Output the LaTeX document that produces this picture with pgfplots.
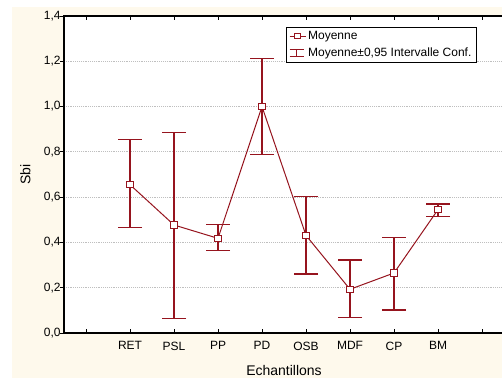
\documentclass[border=0pt]{standalone}
\usepackage{pgfplots}
\pgfplotsset{compat=1.18}
\usepackage{pgfplotstable}
\usepackage{fontspec}
\setmainfont{Liberation Sans}
\definecolor{dred}{RGB}{150,20,30}
\definecolor{cream}{RGB}{254,249,236}
\pgfplotstableread{
x y ep em
1 0.655 0.200 0.190
2 0.477 0.409 0.412
3 0.418 0.060 0.053
4 1.000 0.213 0.210
5 0.431 0.173 0.170
6 0.193 0.129 0.124
7 0.265 0.158 0.163
8 0.545 0.025 0.030
}\datatable
\pgfplotsset{
  meanlegend/.style={legend image code/.code={\draw[mark repeat=2,mark phase=2,##1] plot coordinates {(0pt,0pt) (6pt,0pt) (12pt,0pt)};}},
  cilegend/.style={legend image code/.code={
    \draw[dred, line width=0.8pt] (0pt,2.8pt) -- (11pt,2.8pt);
    \draw[dred, line width=0.8pt] (5.5pt,2.8pt) -- (5.5pt,-2.8pt);
    \draw[dred, line width=0.8pt] (0pt,-2.8pt) -- (11pt,-2.8pt);}},
}
\begin{document}
\begin{tikzpicture}
\useasboundingbox (-48pt,-33.75pt) rectangle (328.5pt,249.75pt);
\fill[white] (-48pt,-33.75pt) rectangle (328.5pt,249.75pt);
\fill[cream] (-39pt,-33.75pt) rectangle (328.5pt,244.5pt);
\begin{axis}[
  scale only axis,
  width=330pt, height=237.75pt,
  xmin=-0.5, xmax=9.5, ymin=0, ymax=1.4,
  axis background/.style={fill=white},
  xtick={0,1,2,3,4,5,6,7,8,9},
  xticklabels={,RET,PSL,PP,PD,OSB,MDF,CP,BM,},
  ytick={0,0.2,0.4,0.6,0.8,1.0,1.2,1.4},
  xtick pos=both, ytick pos=left,
  xtick align=inside, ytick align=outside,
  major tick length=3pt,
  tick style={black, line width=0.6pt},
  axis line style={black, line width=1pt},
  ymajorgrids,
  grid style={densely dotted, gray!50, line width=0.6pt},
  /pgf/number format/assume math mode=true,
  yticklabel style={/pgf/number format/.cd, fixed, fixed zerofill, precision=1, use comma, /tikz/.cd, xshift=4pt},
  xticklabel style={yshift=-3pt},
  tick label style={font=\fontsize{9}{10}\selectfont},
  xlabel={Echantillons}, ylabel={Sbi},
  label style={font=\fontsize{10.5}{12}\selectfont},
  xlabel style={at={(axis description cs:0.5,0)}, anchor=center, yshift=-27.75pt},
  ylabel style={at={(axis description cs:-0.0876,0.5)}, anchor=center},
  legend style={at={(rel axis cs:0.5045,0.966)}, anchor=north west, draw=black, line width=0.6pt, fill=white,
    font=\fontsize{9}{10}\selectfont, inner xsep=2pt, inner ysep=1.5pt, row sep=1.5pt,
    nodes={inner sep=1.5pt}},
  legend cell align=left,
]
\addplot[only marks, mark=none, forget plot,
  error bars/.cd, y dir=both, y explicit,
  error bar style={dred, line width=0.9pt},
  error mark options={dred, line width=0.9pt, mark size=9pt, rotate=90}]
  table[x=x, y=y, y error plus=ep, y error minus=em] {\datatable};
\addplot[dred, line width=0.75pt, mark=square*, mark size=2.4pt,
  mark options={fill=white, solid, line width=0.75pt}, forget plot]
  table[x=x, y=y] {\datatable};
\addlegendimage{dred, line width=0.75pt, mark=square*, mark size=2pt,
  mark options={fill=white, solid}, meanlegend}
\addlegendentry{Moyenne}
\addlegendimage{cilegend}
\addlegendentry{Moyenne±0,95 Intervalle Conf.}
\end{axis}
\end{tikzpicture}
\end{document}
